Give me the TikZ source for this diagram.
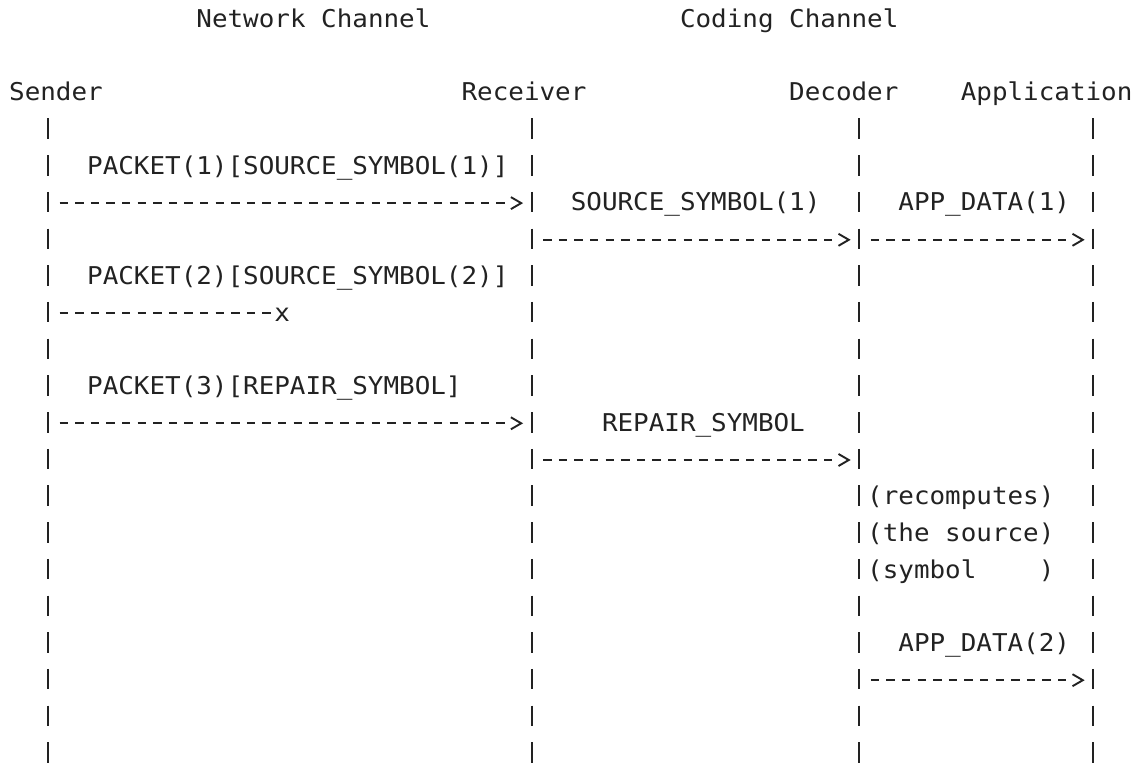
\documentclass[tikz,border=0pt]{standalone}
\usepackage{fontspec}
\setmonofont[FakeStretch=1.0577]{DejaVu Sans Mono}
\usetikzlibrary{calc}
\definecolor{ink}{HTML}{222222}
% character grid: column centre and row centre (1 unit = 1pt, y downwards)
\def\colx#1{(17+15.6*(#1))}
\def\rowy#1{(-18.1+36.7*(#1))}

\begin{document}
\begin{tikzpicture}[x=1pt,y=-1pt,
  lbl/.style={font=\ttfamily\fontsize{24.5}{24.5}\selectfont, text=ink,
              inner sep=0pt, outer sep=0pt, anchor=base west},
  life/.style={draw=ink, line width=1.9pt, dash pattern=on 20.5pt off 16.2pt},
  msg/.style={draw=ink, line width=1.9pt, dash pattern=on 8.3pt off 7.3pt},
  chev/.pic={\draw[ink, line width=1.9pt, line join=miter, solid]
              (-5.3,-6) -- (5,0) -- (-5.3,6);}
]
\fill[white] (0,0) rectangle (1136,767);
\useasboundingbox (0,0) rectangle (1136,767);

% text placed by column (left cell) and row
\newcommand\txt[4]{\node[lbl] (#1) at ({\colx{#2}-7.8},{\rowy{#3}+8.9}) {#4};}

% channel titles
\txt{netch}{12}{1}{Network Channel}
\txt{codch}{43}{1}{Coding Channel}

% participants
\txt{snd}{0}{3}{Sender}
\txt{rcv}{29}{3}{Receiver}
\txt{dec}{50}{3}{Decoder}
\txt{app}{61}{3}{Application}

% lifelines
\foreach \nm/\c in {snd/2, rcv/33, dec/54, app/69}{
  \coordinate (\nm Top) at ({\colx{\c}},{\rowy{4}-10.25});
  \coordinate (\nm Bot) at ({\colx{\c}},{\rowy{21}+10.25});
  \draw[life] (\nm Top) -- (\nm Bot);
}

% message labels
\txt{p1}{5}{5}{PACKET(1)[SOURCE\_SYMBOL(1)]}
\txt{ss1}{36}{6}{SOURCE\_SYMBOL(1)}
\txt{ad1}{57}{6}{APP\_DATA(1)}
\txt{p2}{5}{8}{PACKET(2)[SOURCE\_SYMBOL(2)]}
\txt{lost}{17}{9}{x}
\txt{p3}{5}{11}{PACKET(3)[REPAIR\_SYMBOL]}
\txt{rs}{38}{12}{REPAIR\_SYMBOL}
\txt{rc1}{55}{14}{(recomputes)}
\txt{rc2}{55}{15}{(the source)}
\txt{rc3}{55}{16}{(symbol\ \ \ \ )}
\txt{ad2}{57}{18}{APP\_DATA(2)}

% messages: name / first dash column / last dash column / head column / row
\foreach \nm/\a/\b/\h/\r in {m1/3/31/32/6, m2/34/52/53/7, m3/55/67/68/7,
                             m5/3/31/32/12, m6/34/52/53/13, m7/55/67/68/19}{
  \coordinate (\nm a) at ({\colx{\a}-4.15},{\rowy{\r}+1});
  \coordinate (\nm b) at ({\colx{\b}+4.15},{\rowy{\r}+1});
  \coordinate (\nm h) at ({\colx{\h}},{\rowy{\r}+1});
  \draw[msg] (\nm a) -- (\nm b);
  \pic at (\nm h) {chev};
}

% lost packet
\coordinate (m4a) at ({\colx{3}-4.15},{\rowy{9}+1});
\coordinate (m4b) at ({\colx{16}+4.15},{\rowy{9}+1});
\draw[msg] (m4a) -- (m4b);
\end{tikzpicture}
\end{document}
